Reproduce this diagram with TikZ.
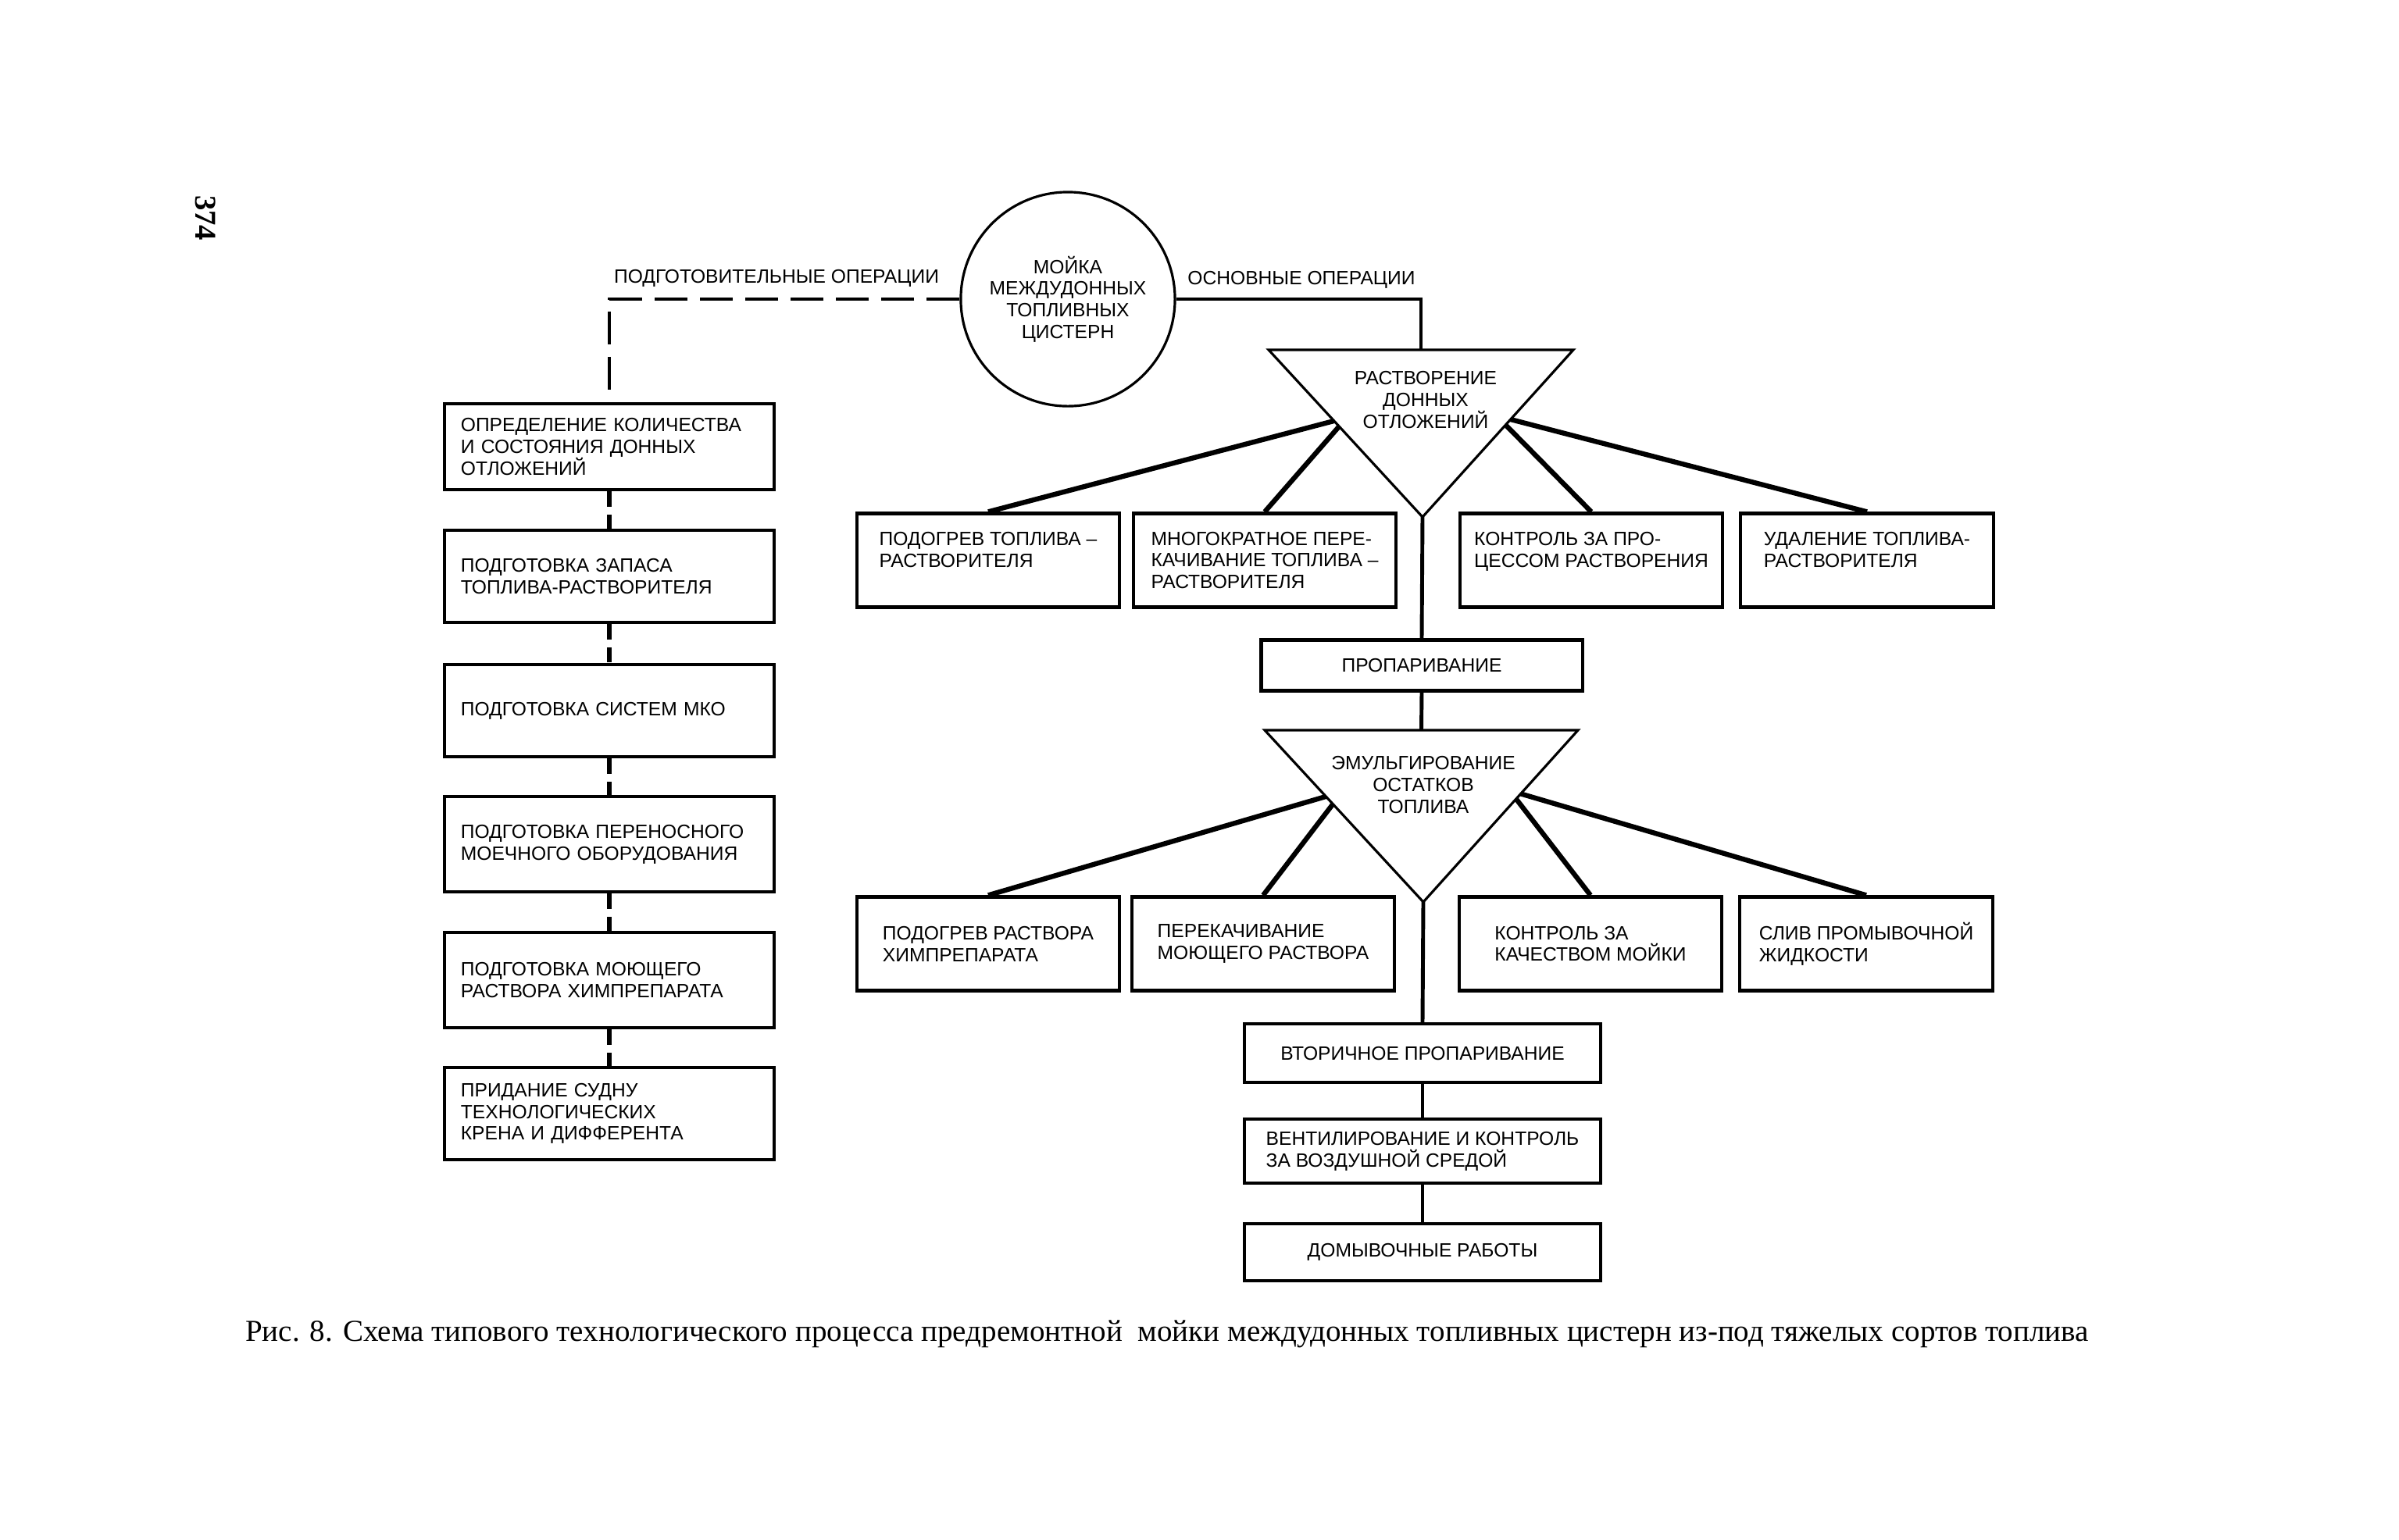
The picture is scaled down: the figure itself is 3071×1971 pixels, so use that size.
\documentclass[tikz,border=0pt]{standalone}
\usepackage{fontspec}
\setmainfont{Liberation Sans}
\newfontfamily\capfont{Liberation Serif}
\usetikzlibrary{calc}

\begin{document}
\begin{tikzpicture}[x=0.01cm, y=-0.01cm,
  every node/.style={font=\fontsize{7}{7.9}\selectfont},
  opbox/.style={draw, line width=1.2pt, minimum width=3.36cm,
    minimum height=1.2cm, align=left, inner sep=0pt},
  prepbox/.style={draw, line width=1.2pt, minimum height=1.18cm,
    text width=3.8cm, align=left, inner xsep=2.1mm, inner ysep=0pt},
  midbox/.style={opbox, minimum width=4.56cm},
  tri/.style={line width=0.9pt, line join=miter},
  branch/.style={line width=1.8pt},
  mainline/.style={line width=1.4pt},
  prepline/.style={line width=1.4pt, dash pattern=on 12pt off 4.5pt},
  prepstub/.style={line width=1.5pt, dash pattern=on 5.5pt off 3pt}]

  \useasboundingbox (0,0) rectangle (3071,1971); %% page

  %% centre
  \node[draw, circle, line width=0.9pt, minimum size=2.74cm, inner sep=0pt,
    align=center] (mk) at (1367,383) {МОЙКА\\МЕЖДУДОННЫХ\\ТОПЛИВНЫХ\\ЦИСТЕРН};
  \node (lprep) at (994,356) {ПОДГОТОВИТЕЛЬНЫЕ ОПЕРАЦИИ};
  \node (lmain) at (1666,358) {ОСНОВНЫЕ ОПЕРАЦИИ};

  %% preparatory operations
  \node[prepbox, minimum height=1.1cm] (l1) at (780,572)
    {ОПРЕДЕЛЕНИЕ КОЛИЧЕСТВА\\И СОСТОЯНИЯ ДОННЫХ\\ОТЛОЖЕНИЙ};
  \node[prepbox] (l2) at (780,738)
    {ПОДГОТОВКА ЗАПАСА\\ТОПЛИВА-РАСТВОРИТЕЛЯ};
  \node[prepbox] (l3) at (780,910) {ПОДГОТОВКА СИСТЕМ МКО};
  \node[prepbox, minimum height=1.22cm] (l4) at (780,1081)
    {ПОДГОТОВКА ПЕРЕНОСНОГО\\МОЕЧНОГО ОБОРУДОВАНИЯ};
  \node[prepbox, minimum height=1.22cm] (l5) at (780,1255)
    {ПОДГОТОВКА МОЮЩЕГО\\РАСТВОРА ХИМПРЕПАРАТА};
  \node[prepbox] (l6) at (780,1426)
    {ПРИДАНИЕ СУДНУ\\ТЕХНОЛОГИЧЕСКИХ\\КРЕНА И ДИФФЕРЕНТА};

  \draw[prepline] (mk.west) -| (l1.north);
  \draw[prepstub] (l1.south) -- (l2.north);
  \draw[prepstub] (l2.south) -- (l3.north);
  \draw[prepstub] (l3.south) -- (l4.north);
  \draw[prepstub] (l4.south) -- (l5.north);
  \draw[prepstub] (l5.south) -- (l6.north);

  %% dissolving
  \coordinate (t1l) at (1624,448);
  \coordinate (t1r) at (2014,448);
  \coordinate (t1a) at (1821,662);
  \coordinate (t1t) at ($(t1l)!0.5!(t1r)$);
  \draw[tri] (t1l) -- (t1r) -- (t1a) -- cycle;
  \node[align=center] (t1) at (1825,512) {РАСТВОРЕНИЕ\\ДОННЫХ\\ОТЛОЖЕНИЙ};

  \node[opbox] (ra) at (1265,717.5) {ПОДОГРЕВ ТОПЛИВА –\\РАСТВОРИТЕЛЯ\\\mbox{}};
  \node[opbox] (rb) at (1619,717.5)
    {МНОГОКРАТНОЕ ПЕРЕ-\\КАЧИВАНИЕ ТОПЛИВА –\\РАСТВОРИТЕЛЯ};
  \node[opbox] (rc) at (2037,717.5) {КОНТРОЛЬ ЗА ПРО-\\ЦЕССОМ РАСТВОРЕНИЯ\\\mbox{}};
  \node[opbox, minimum width=3.24cm] (rd) at (2390,717.5)
    {УДАЛЕНИЕ ТОПЛИВА-\\РАСТВОРИТЕЛЯ\\\mbox{}};

  \draw[mainline] (mk.east) -| (t1t);
  \draw[branch] ($(t1l)!0.425!(t1a)$) -- (ra.north);
  \draw[branch] ($(t1l)!0.458!(t1a)$) -- (rb.north);
  \draw[branch] ($(t1r)!0.449!(t1a)$) -- (rc.north);
  \draw[branch] ($(t1r)!0.416!(t1a)$) -- (rd.north);

  \node[opbox, minimum width=4.11cm, minimum height=0.65cm] (p1) at (1820,852)
    {ПРОПАРИВАНИЕ};
  \draw[mainline] (t1a) -- (p1.north);

  %% emulsifying
  \coordinate (t2l) at (1619,935);
  \coordinate (t2r) at (2020,935);
  \coordinate (t2a) at (1822,1155);
  \coordinate (t2t) at ($(t2l)!0.5!(t2r)$);
  \draw[tri] (t2l) -- (t2r) -- (t2a) -- cycle;
  \node[align=center] (t2) at (1822,1005) {ЭМУЛЬГИРОВАНИЕ\\ОСТАТКОВ\\ТОПЛИВА};
  \draw[mainline] (p1.south) -- (t2t);

  \node[opbox] (re) at (1265,1208.5) {ПОДОГРЕВ РАСТВОРА\\ХИМПРЕПАРАТА};
  \node[opbox] (rf) at (1617,1208.5) {ПЕРЕКАЧИВАНИЕ\\МОЮЩЕГО РАСТВОРА};
  \node[opbox] (rg) at (2036,1208.5) {КОНТРОЛЬ ЗА\\КАЧЕСТВОМ МОЙКИ};
  \node[opbox, minimum width=3.24cm] (rh) at (2389,1208.5)
    {СЛИВ ПРОМЫВОЧНОЙ\\ЖИДКОСТИ};

  \draw[branch] ($(t2l)!0.386!(t2a)$) -- (re.north);
  \draw[branch] ($(t2l)!0.43!(t2a)$) -- (rf.north);
  \draw[branch] ($(t2r)!0.40!(t2a)$) -- (rg.north);
  \draw[branch] ($(t2r)!0.37!(t2a)$) -- (rh.north);

  %% final operations
  \node[midbox, minimum height=0.75cm] (p2) at (1821,1348.5) {ВТОРИЧНОЕ ПРОПАРИВАНИЕ};
  \node[midbox, minimum height=0.82cm] (p3) at (1821,1474)
    {ВЕНТИЛИРОВАНИЕ И КОНТРОЛЬ\\ЗА ВОЗДУШНОЙ СРЕДОЙ};
  \node[midbox, minimum height=0.73cm] (p4) at (1821,1603.5) {ДОМЫВОЧНЫЕ РАБОТЫ};

  \draw[mainline] (t2a) -- (p2.north);
  \draw[mainline] (p2.south) -- (p3.north);
  \draw[mainline] (p3.south) -- (p4.north);

  %% caption, page number
  \node[font=\capfont\fontsize{11.1}{13}\selectfont] (cap) at (1494,1708)
    {Рис. 8. Схема типового технологического процесса предремонтной\hspace{1mm}
     мойки междудонных топливных цистерн из-под тяжелых сортов топлива};
  \node[font=\capfont\bfseries\fontsize{11}{13}\selectfont, rotate=-90] (pg)
    at (263,279) {374};

\end{tikzpicture}
\end{document}
